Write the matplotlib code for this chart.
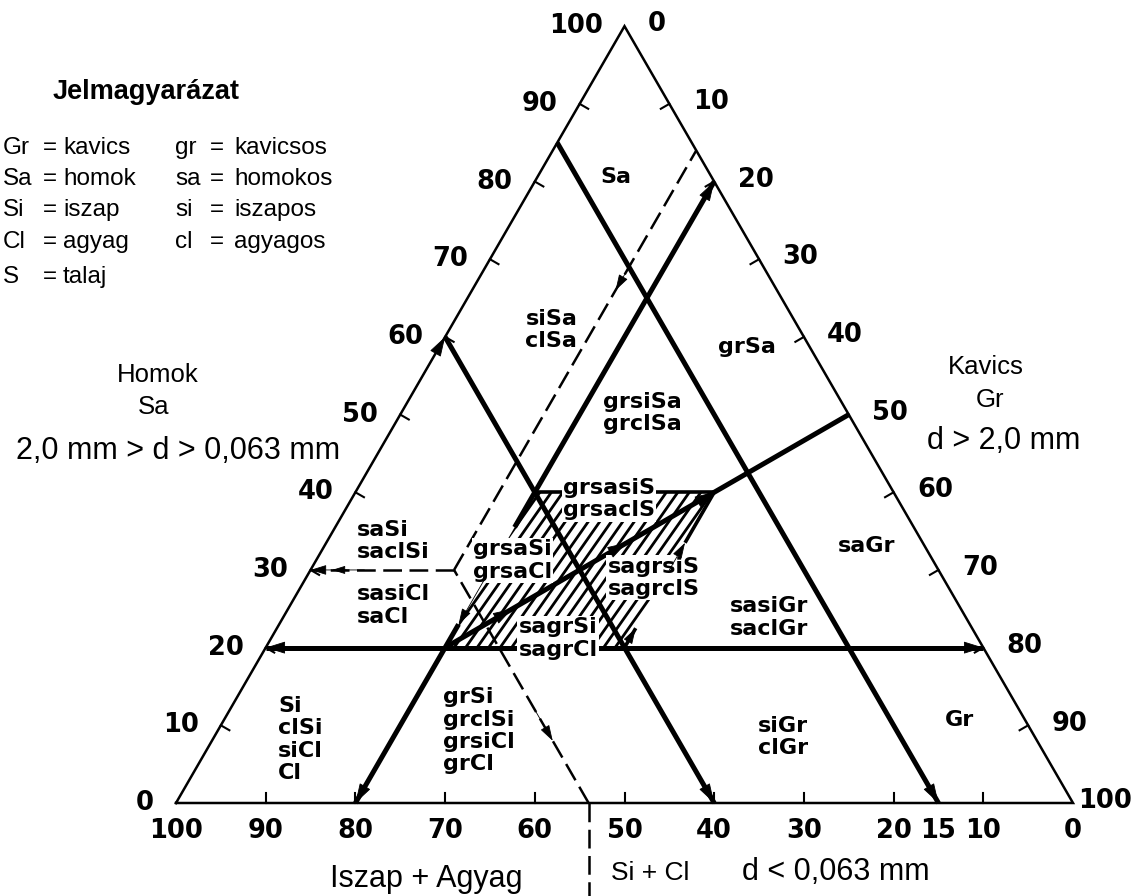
import numpy as np
import matplotlib
matplotlib.use('Agg')
import matplotlib.pyplot as plt
from matplotlib import font_manager
from matplotlib.patches import Polygon

# ---- data (percent values) ----
fine_lines = [15, 40]            # Si+Cl = const (thick)
gravel_line = 20                 # Gr = const (thick)
sand_line = 20                   # Sa = const (thick)
ratio_line_sa = [20, 50]         # Sa = Gr line, from .. to
mixed_sa = [20, 40, 40, 20]      # hatched field corners
mixed_gr = [20, 20, 40, 40]
dash_fine = 54                   # dashed Si+Cl line
dash_gr = 16                     # dashed Gr line
dash_sa = 30                     # dashed Sa line

left_vals = np.arange(0, 101, 10)        # Sa axis
right_vals = np.arange(0, 101, 10)       # Gr axis
bottom_vals = [100, 90, 80, 70, 60, 50, 40, 30, 20, 15, 10, 0]   # Si+Cl axis

region_text = ['Sa', 'siSa\nclSa', 'grSa', 'grsiSa\ngrclSa', 'grsasiS\ngrsaclS',
               'grsaSi\ngrsaCl', 'sagrsiS\nsagrclS', 'sagrSi\nsagrCl', 'saGr',
               'sasiGr\nsaclGr', 'siGr\nclGr', 'Gr', 'saSi\nsaclSi', 'sasiCl\nsaCl',
               'Si\nclSi\nsiCl\nCl', 'grSi\ngrclSi\ngrsiCl\ngrCl']
region_sa = [80.6, 60.9, 58.7, 50.2, 39.1, 31.2, 29.0, 21.2, 33.1, 23.9, 8.5, 10.7,
             33.7, 25.4, 8.2, 9.3]
region_gr = [6.97, 8.5, 31.1, 22.5, 23.6, 17.5, 33.6, 27.6, 57.2, 49.8, 60.6, 80.4,
             3.3, 7.5, 7.3, 25.1]
region_boxed = [False, False, False, False, True, True, True, True, False,
                False, False, False, False, False, False, False]

legend_abbr_l = ['Gr', 'Sa', 'Si', 'Cl', 'S']
legend_text_l = ['kavics', 'homok', 'iszap', 'agyag', 'talaj']
legend_abbr_r = ['gr', 'sa', 'si', 'cl']
legend_text_r = ['kavicsos', 'homokos', 'iszapos', 'agyagos']

# ---- frame: the picture is 1132x896 px, triangle side 100 % ----
W, H = 1132, 896
X0, Y0, S = 176.0, 803.0, 8.97
R3 = np.sqrt(3) / 2


def tern(sa, gr):
    sa = np.asarray(sa, float)
    gr = np.asarray(gr, float)
    return gr + sa / 2, sa * R3


def px(x, y):
    return (x - X0) / S, (Y0 - y) / S


names = {f.name for f in font_manager.fontManager.ttflist}
NARROW = 'Liberation Sans Narrow' if 'Liberation Sans Narrow' in names else 'DejaVu Sans'
ARIAL = 'Liberation Sans'
num_kw = dict(family=NARROW, fontsize=18.5, fontweight='bold')
lab_kw = dict(family='DejaVu Sans', fontsize=16, fontweight='bold')

fig = plt.figure(figsize=(W / 100, H / 100), dpi=100)
ax = fig.add_axes([0, 0, 1, 1])
ax.set_xlim(-X0 / S, (W - X0) / S)
ax.set_ylim(-(H - Y0) / S, Y0 / S)
ax.axis('off')

THICK = 3.6
THIN = 1.8


def seg(p, q, **kw):
    x, y = tern([p[0], q[0]], [p[1], q[1]])
    ax.plot(x, y, color='k', solid_capstyle='butt', **kw)


def head(p_from, p_to, ms=14):
    a = tern(*p_from)
    b = tern(*p_to)
    ax.annotate('', xy=(float(b[0]), float(b[1])), xytext=(float(a[0]), float(a[1])),
                arrowprops=dict(arrowstyle='-|>,head_length=0.9,head_width=0.28',
                                fc='k', ec='k', lw=0.6, shrinkA=0, shrinkB=0,
                                mutation_scale=ms), zorder=6)


# triangle outline
tx, ty = tern([0, 100, 0, 0], [0, 0, 100, 0])
ax.plot(tx, ty, color='k', lw=THIN, solid_joinstyle='miter')

# ticks (perpendicular, pointing inward)
tl = 1.1
for v in left_vals[1:-1]:
    x, y = tern(v, 0)
    ax.plot([x, x + tl * 0.866], [y, y - tl * 0.5], color='k', lw=1.5)
for v in right_vals[1:-1]:
    x, y = tern(100 - v, v)
    ax.plot([x, x - tl * 0.866], [y, y - tl * 0.5], color='k', lw=1.5)
for v in bottom_vals[1:-1]:
    if v == 15:
        continue
    x, y = tern(0, 100 - v)
    ax.plot([x, x], [y, y + tl], color='k', lw=1.5)

# tick labels
for v in left_vals:
    x, y = tern(v, 0)
    ax.text(x - 2.45, y, str(v), ha='right', va='center', **num_kw)
for v in right_vals:
    x, y = tern(100 - v, v)
    dx = 0.6 if v == 100 else 2.6
    ax.text(x + dx, y + 0.2, str(v), ha='left', va='center', **num_kw)
for v in bottom_vals:
    x, y = tern(0, 100 - v)
    ax.text(x, y - 3.1, str(v), ha='center', va='center', **num_kw)

# hatched mixed-soil field
corners = np.column_stack(tern(mixed_sa, mixed_gr))
clip = Polygon(corners, closed=True, fc='none', ec='none')
ax.add_patch(clip)
ang = np.deg2rad(55)
d = np.array([np.cos(ang), np.sin(ang)])
n = np.array([-d[1], d[0]])
c = corners.mean(axis=0)
for off in np.arange(-25, 25, 1.05):
    p0 = c + n * off - d * 30
    p1 = c + n * off + d * 30
    ln, = ax.plot([p0[0], p1[0]], [p0[1], p1[1]], color='k', lw=2.0, zorder=1.5)
    ln.set_clip_path(clip)

# thick boundaries
for f in fine_lines:
    seg((100 - f, 0), (0, 100 - f), lw=THICK)
seg((0, gravel_line), (23, gravel_line), lw=THICK)
seg((35.5, gravel_line), (100 - gravel_line, gravel_line), lw=THICK)
seg((sand_line, 0), (sand_line, 100 - sand_line), lw=THICK)
seg((ratio_line_sa[0], ratio_line_sa[0]), (ratio_line_sa[1], ratio_line_sa[1]), lw=THICK)
# edges of the hatched field
seg((mixed_sa[1], mixed_gr[1]), (mixed_sa[2], mixed_gr[2]), lw=2.6)
seg((mixed_sa[2], mixed_gr[2]), (33.5, mixed_gr[2]), lw=2.6)
seg((mixed_sa[0], mixed_gr[3]), (22.5, mixed_gr[3]), lw=2.6)

# arrow heads on the thick lines
head((7, 53), (0, 60))
head((53, 0), (60, 0))
head((7, 78), (0, 85))
head((7, gravel_line), (0, gravel_line))
head((73, gravel_line), (100 - gravel_line, gravel_line))
head((sand_line, 7), (sand_line, 0))
head((sand_line, 73), (sand_line, 100 - sand_line))
head((29, gravel_line), (23, gravel_line), ms=11)
head((30, mixed_gr[2]), (33.5, mixed_gr[2]), ms=11)
head((20.5, mixed_gr[3]), (22.5, mixed_gr[3]), ms=11)
for s in [25, 33.5, 40]:
    head((s - 4, s - 4), (s, s))

# dashed lines
dash = dict(lw=THIN, linestyle=(0, (7.5, 3)))
seg((0, 100 - dash_fine), (dash_sa, dash_gr), **dash)
seg((dash_sa, dash_gr), (100 - dash_gr, dash_gr), **dash)
seg((dash_sa, dash_gr), (dash_sa, 0), **dash)
head((12, 100 - dash_fine - 12), (8, 100 - dash_fine - 8), ms=11)
head((70, dash_gr), (66, dash_gr), ms=11)
head((dash_sa, 4), (dash_sa, 0), ms=11)
head((dash_sa, 6), (dash_sa, 2.4), ms=9)
xb, yb = tern(0, 100 - dash_fine)
ax.plot([xb, xb], [yb, -(H - Y0) / S], color='k', **dash)

# field labels
for t, sa, gr, boxed in zip(region_text, region_sa, region_gr, region_boxed):
    x, y = tern(sa, gr)
    box = dict(fc='white', ec='none', pad=1.0) if boxed else None
    ax.text(x, y, t, ha='left', va='center', multialignment='left',
            linespacing=1.15, bbox=box, zorder=5, **lab_kw)

# legend (Jelmagyarázat)
ax.text(*px(53, 92), 'Jelmagyarázat', family=ARIAL, fontsize=19.5, fontweight='bold',
        ha='left', va='center')
leg_y = [148, 179, 210, 242, 277]
for a, t, yy in zip(legend_abbr_l, legend_text_l, leg_y):
    ax.text(*px(3, yy), a, family=ARIAL, fontsize=17.5, ha='left', va='center')
    ax.text(*px(43, yy), '=', family=ARIAL, fontsize=17.5, ha='left', va='center')
    ax.text(*px(63, yy), t, family=ARIAL, fontsize=17.5, ha='left', va='center')
for a, t, yy in zip(legend_abbr_r, legend_text_r, leg_y):
    ax.text(*px(175, yy), a, family=ARIAL, fontsize=17.5, ha='left', va='center')
    ax.text(*px(210, yy), '=', family=ARIAL, fontsize=17.5, ha='left', va='center')
    ax.text(*px(234, yy), t, family=ARIAL, fontsize=17.5, ha='left', va='center')

# axis titles
ax.text(*px(158, 375), 'Homok', family=ARIAL, fontsize=18.5, ha='center', va='center')
ax.text(*px(154, 407), 'Sa', family=ARIAL, fontsize=18.5, ha='center', va='center')
ax.text(*px(178, 451), '2,0 mm > d > 0,063 mm', family=ARIAL, fontsize=22,
        ha='center', va='center')
ax.text(*px(986, 367), 'Kavics', family=ARIAL, fontsize=18.5, ha='center', va='center')
ax.text(*px(990, 400), 'Gr', family=ARIAL, fontsize=18.5, ha='center', va='center')
ax.text(*px(1004, 441), 'd > 2,0 mm', family=ARIAL, fontsize=22, ha='center', va='center')
ax.text(*px(426, 879), 'Iszap + Agyag', family=ARIAL, fontsize=22, ha='center', va='center')
ax.text(*px(650, 873), 'Si + Cl', family=ARIAL, fontsize=19, ha='center', va='center')
ax.text(*px(836, 872), 'd < 0,063 mm', family=ARIAL, fontsize=22, ha='center', va='center')

fig.savefig('out.png', dpi=100, facecolor='white')
